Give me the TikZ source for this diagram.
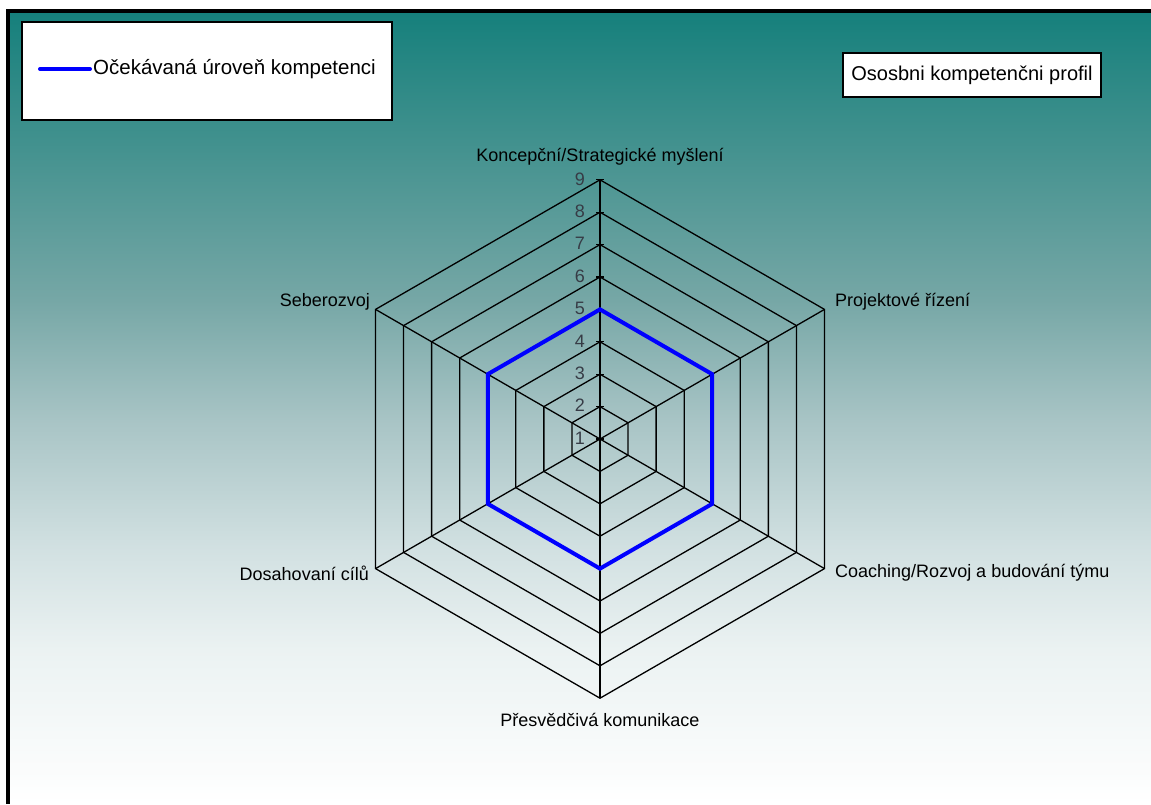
\documentclass[tikz,border=0pt]{standalone}
\usepackage{fontspec}
\setmainfont{Liberation Sans}
\usetikzlibrary{calc}
\definecolor{numcol}{RGB}{55,60,70}
\definecolor{expblue}{RGB}{0,0,255}
% background: teal at the top fading through grey-teal to white
% (TikZ fits the filled area to the 25bp..75bp band of a shading)
\pgfdeclareverticalshading{bgfade}{100bp}{
  rgb(0bp)=(1,1,1);
  rgb(25bp)=(1,1,1);
  rgb(34.75bp)=(0.922,0.949,0.949);
  rgb(41bp)=(0.824,0.882,0.886);
  rgb(49.25bp)=(0.659,0.769,0.773);
  rgb(56.85bp)=(0.463,0.655,0.651);
  rgb(66.35bp)=(0.267,0.573,0.561);
  rgb(75bp)=(0.086,0.502,0.486);
  rgb(100bp)=(0.086,0.502,0.486)}
\begin{document}
\begin{tikzpicture}[x=1pt,y=-1pt,
  grid/.style={black,line width=1.3pt},
  axislabel/.style={font=\fontsize{18}{20}\selectfont,inner sep=0pt},
  levelnum/.style={font=\fontsize{18}{20}\selectfont,text=numcol,anchor=east,inner sep=0pt},
  whitebox/.style={draw=black,fill=white,line width=2pt,inner sep=0pt},
  profile/.style={expblue,line width=4pt,line join=miter}]
% canvas
\useasboundingbox (0,0) rectangle (1151,804);
\fill[white] (0,0) rectangle (1151,804);
\shade[shading=bgfade] (10,13) rectangle (1151,804);
\fill[black] (6,9) rectangle (1151,13);
\fill[black] (6,9) rectangle (10,804);

% centre of the radar chart; one scale step = 32.4
\coordinate (c) at (600,439);
\def\stepr{32.4}

% rings for levels 2..9
\foreach \l in {2,...,9}{
  \pgfmathsetmacro\r{(\l-1)*\stepr}
  \draw[grid] ($(c)+(-90:\r)$) -- ($(c)+(-30:\r)$) -- ($(c)+(30:\r)$) -- ($(c)+(90:\r)$)
    -- ($(c)+(150:\r)$) -- ($(c)+(210:\r)$) -- cycle;
}
% spokes
\pgfmathsetmacro\rmax{8*\stepr}
\foreach \a/\n in {-90/a1,-30/a2,30/a3,90/a4,150/a5,210/a6}{
  \coordinate (\n) at ($(c)+(\a:\rmax)$);
  \draw[grid] (c) -- (\n);
}
% ticks and level numbers on the top axis
\foreach \l in {1,...,9}{
  \pgfmathsetmacro\r{(\l-1)*\stepr}
  \coordinate (t\l) at ($(c)+(-90:\r)$);
  \draw[grid] ($(t\l)+(-4,0)$) -- ($(t\l)+(4,0)$);
  \node[levelnum] (n\l) at ($(t\l)+(-15,-1)$) {\l};
}

% expected competence level (5 on every axis)
\pgfmathsetmacro\rp{4*\stepr}
\draw[profile] ($(c)+(-90:\rp)$) -- ($(c)+(-30:\rp)$) -- ($(c)+(30:\rp)$) -- ($(c)+(90:\rp)$)
  -- ($(c)+(150:\rp)$) -- ($(c)+(210:\rp)$) -- cycle;

% axis labels
\node[axislabel,anchor=center] (l1) at (600,157) {Koncepční/Strategické myšlení};
\node[axislabel,anchor=west] (l2) at (835,302) {Projektové řízení};
\node[axislabel,anchor=west] (l3) at (835,573) {Coaching/Rozvoj a budování týmu};
\node[axislabel,anchor=center] (l4) at (600,720) {Přesvědčivá komunikace};
\node[axislabel,anchor=east] (l5) at (369,573) {Dosahovaní cílů};
\node[axislabel,anchor=east] (l6) at (370,302) {Seberozvoj};

% legend
\node[whitebox,minimum width=370,minimum height=98] (legend) at (207,71) {};
\coordinate (ls) at (40,69);
\coordinate (le) at (90,69);
\draw[expblue,line width=4pt,line cap=round] (ls) -- (le);
\node[font=\fontsize{20.5}{22}\selectfont,anchor=west,inner sep=0pt] (legtext) at (93,69) {Očekávaná úroveň kompetenci};

% title
\node[whitebox,minimum width=258,minimum height=44,font=\fontsize{20}{22}\selectfont] (title) at (972,75) {Ososbni kompetenčni profil};
\end{tikzpicture}
\end{document}
